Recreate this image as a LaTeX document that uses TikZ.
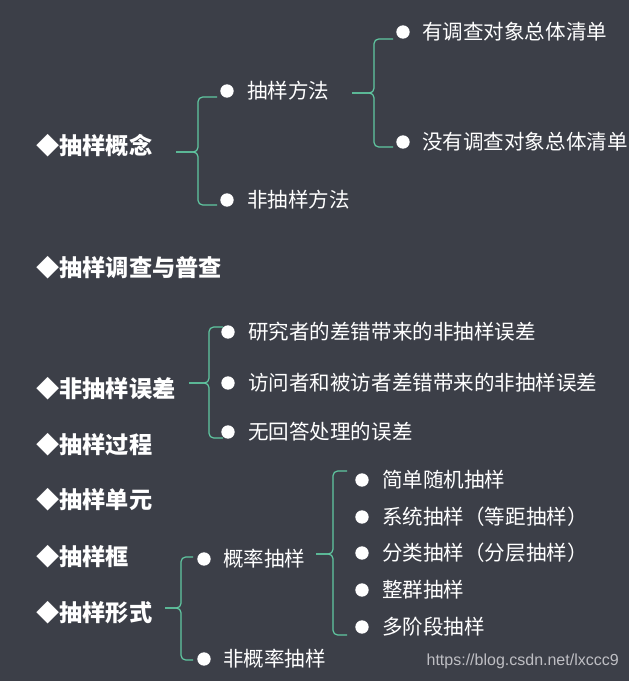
\documentclass[tikz,border=0pt]{standalone}
\usepackage{fontspec}
\newfontfamily\cjk{Noto Sans CJK SC}
\newfontfamily\wmfont{Liberation Sans}
\definecolor{bgc}{RGB}{60,63,72}
\definecolor{brcc}{RGB}{96,200,162}
\definecolor{wmc}{RGB}{190,190,195}
\begin{document}
\begin{tikzpicture}[x=0.75pt,y=-0.75pt,
 head/.style={anchor=west,inner sep=0pt,text=white,font=\cjk\bfseries\fontsize{17.4pt}{20pt}\selectfont},
 sub/.style={anchor=west,inner sep=0pt,text=white,font=\cjk\fontsize{15.4pt}{18pt}\selectfont},
 dot/.style={circle,fill=white,inner sep=0pt,minimum size=10pt},
 brc/.style={draw=brcc,line width=0.9pt,rounded corners=3.5pt}]
\fill[bgc] (0,0) rectangle (629,681);
\useasboundingbox (0,0) rectangle (629,681);

% headings
\node[head] (h1) at (36,146) {◆抽样概念};
\node[head] (h2) at (36,268) {◆抽样调查与普查};
\node[head] (h3) at (36,389) {◆非抽样误差};
\node[head] (h4) at (36,445) {◆抽样过程};
\node[head] (h5) at (36,500) {◆抽样单元};
\node[head] (h6) at (36,557) {◆抽样框};
\node[head] (h7) at (36,613) {◆抽样形式};

% section 1
\node[dot] (d11) at (227,91) {};
\node[dot] (d12) at (227,200) {};
\node[sub] (t11) at (247,91) {抽样方法};
\node[sub] (t12) at (247,200) {非抽样方法};
\node[dot] (d111) at (403,32) {};
\node[dot] (d112) at (403,142) {};
\node[sub] (t111) at (422,32) {有调查对象总体清单};
\node[sub] (t112) at (422,142) {没有调查对象总体清单};

\coordinate (s1) at (176,152);
\coordinate (e11) at (217,97);
\coordinate (e12) at (217,205);
\draw[brc] (s1) -- (198,152) |- (e11);
\draw[brc] (s1) -- (198,152) |- (e12);

\coordinate (s11) at (352,93);
\coordinate (e111) at (393,39);
\coordinate (e112) at (393,147);
\draw[brc] (s11) -- (374,93) |- (e111);
\draw[brc] (s11) -- (374,93) |- (e112);

% section 3
\node[dot] (d31) at (228,332) {};
\node[dot] (d32) at (228,383) {};
\node[dot] (d33) at (228,432) {};
\node[sub] (t31) at (248,332) {研究者的差错带来的非抽样误差};
\node[sub] (t32) at (248,383) {访问者和被访者差错带来的非抽样误差};
\node[sub] (t33) at (248,432) {无回答处理的误差};
\coordinate (s3) at (189,383);
\coordinate (e31) at (223,327);
\coordinate (e33) at (223,438);
\draw[brc] (s3) -- (209,383) |- (e31);
\draw[brc] (s3) -- (209,383) |- (e33);

% section 7
\node[dot] (d71) at (204,559) {};
\node[dot] (d72) at (204,659) {};
\node[sub] (t71) at (223,559) {概率抽样};
\node[sub] (t72) at (223,659) {非概率抽样};
\coordinate (s7) at (165,608);
\coordinate (e71) at (193,557);
\coordinate (e72) at (193,660);
\draw[brc] (s7) -- (181,608) |- (e71);
\draw[brc] (s7) -- (181,608) |- (e72);

\node[dot] (d711) at (362,480) {};
\node[dot] (d712) at (362,517) {};
\node[dot] (d713) at (362,553) {};
\node[dot] (d714) at (362,590) {};
\node[dot] (d715) at (362,627) {};
\node[sub] (t711) at (382,480) {简单随机抽样};
\node[sub] (t712) at (382,517) {系统抽样（等距抽样）};
\node[sub] (t713) at (382,553) {分类抽样（分层抽样）};
\node[sub] (t714) at (382,590) {整群抽样};
\node[sub] (t715) at (382,627) {多阶段抽样};
\coordinate (s71) at (316,554);
\coordinate (e711) at (347,471);
\coordinate (e715) at (347,635);
\draw[brc] (s71) -- (333,554) |- (e711);
\draw[brc] (s71) -- (333,554) |- (e715);

% watermark
\node[anchor=east,inner sep=0pt,text=wmc,font=\wmfont\fontsize{12pt}{14pt}\selectfont] (wm) at (619,661) {https://blog.csdn.net/lxccc9};
\end{tikzpicture}
\end{document}
